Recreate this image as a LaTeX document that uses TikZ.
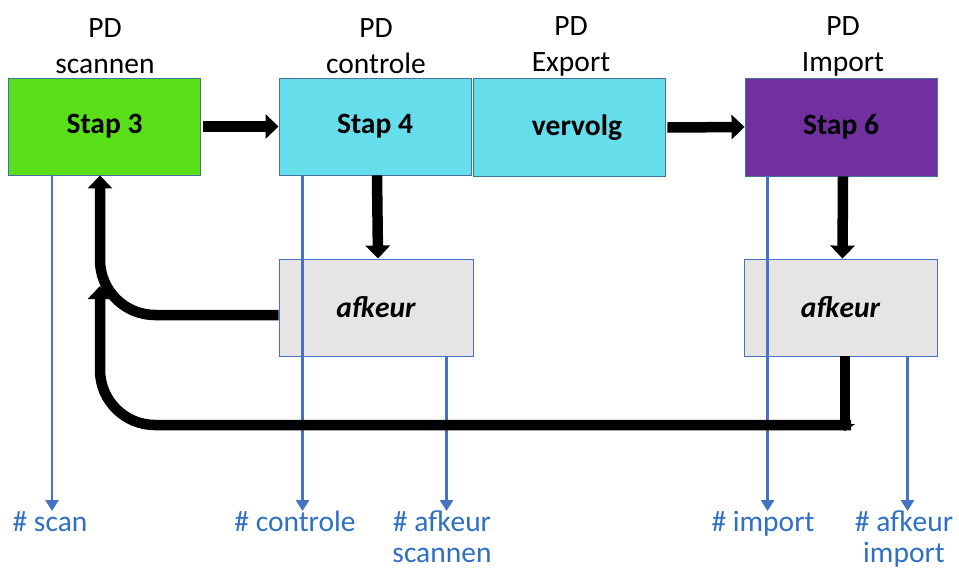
\documentclass[tikz,border=0pt]{standalone}
\usepackage{fontspec}
\setmainfont{Carlito}
\usetikzlibrary{arrows.meta,calc}
\definecolor{cgreen}{HTML}{5AE01A}
\definecolor{ccyan}{HTML}{66DDEA}
\definecolor{cpurple}{HTML}{7030A0}
\definecolor{cgray}{HTML}{E7E4E4}
\definecolor{cedge}{HTML}{41719C}
\definecolor{cblue}{HTML}{4472C4}
\definecolor{ctext}{HTML}{2F6FC4}
\begin{document}
\begin{tikzpicture}[x=1pt,y=-1pt,
  every node/.style={font=\fontsize{29.5}{36}\selectfont},
  box/.style={draw=cedge, line width=0.9pt, minimum width=192pt, minimum height=97pt, inner sep=0pt, font=\fontsize{29.5}{36}\selectfont\bfseries},
  toplbl/.style={align=center, inner sep=0pt, text=black},
  botlbl/.style={align=center, inner sep=0pt, text=ctext, anchor=north, font=\fontsize{29.5}{31}\selectfont},
  blk/.style={line width=10.5pt, draw=black},
  blkarrow/.style={blk, -{Triangle[width=24pt,length=13pt]}},
  bluearrow/.style={draw=cblue, line width=2.8pt, -{Triangle[width=13pt,length=11pt]}}
]
\useasboundingbox (0,0) rectangle (959,571);
% boxes
\node[box, fill=cgreen] (s3) at (104.5,126.5) {Stap 3};
\node[box, fill=ccyan] (s4) at (375,126.5) {Stap 4};
\node[box, fill=ccyan, minimum height=98pt] (vv) at (569,127.5) {\hspace*{16pt}vervolg};
\node[box, fill=cpurple, minimum height=98pt] (s6) at (841,127) {Stap 6};
\node[box, fill=cgray, draw=cblue, font=\fontsize{29.5}{36}\selectfont\bfseries\itshape, minimum width=194pt] (a1) at (376,307.5) {afkeur};
\node[box, fill=cgray, draw=cblue, font=\fontsize{29.5}{36}\selectfont\bfseries\itshape, minimum width=193pt] (a2) at (840.5,307.5) {afkeur};
% top labels
\node[toplbl] (l3) at (105,46) {PD\\scannen};
\node[toplbl] (l4) at (376,46) {PD\\controle};
\node[toplbl] (lv) at (571,46) {PD\\Export};
\node[toplbl] (l6) at (843,46) {PD\\Import};
% bottom labels
\node[botlbl] (b1) at (50,511) {\# scan};
\node[botlbl] (b2) at (295,511) {\# controle};
\node[botlbl] (b3) at (442,511) {\# afkeur\\scannen};
\node[botlbl] (b4) at (763,511) {\# import};
\node[botlbl] (b5) at (904,511) {\# afkeur\\import};
% blue count lines
\draw[bluearrow] ([xshift=44pt]s3.south west) -- ([xshift=44pt]s3.south west |- b1.north);
\draw[bluearrow] ([xshift=24pt]s4.south west) -- ([xshift=24pt]s4.south west |- b2.north);
\draw[bluearrow] ([xshift=168pt]a1.south west) -- ([xshift=168pt]a1.south west |- b3.north);
\draw[bluearrow] ([xshift=23pt]s6.south west) -- ([xshift=23pt]s6.south west |- b4.north);
\draw[bluearrow] ([xshift=164pt]a2.south west) -- ([xshift=164pt]a2.south west |- b5.north);
% main flow
\draw[blkarrow] ([xshift=2pt]s3.east) -- (s4.west);
\draw[blkarrow] ([xshift=2pt]vv.east) -- (s6.west);
\draw[blkarrow] ([xshift=2pt]s4.south) -- ([xshift=2pt]a1.north);
\draw[blkarrow] ([xshift=2pt]s6.south) -- ([xshift=2pt]a2.north);
% return flows
\draw[blkarrow, rounded corners=55pt] ([yshift=-7.5pt]a1.west) -| ([xshift=-4.5pt]s3.south);
\coordinate (turn2) at (845,431);
\coordinate (merge) at (100,286);
\draw[blk, -{Triangle[width=20pt,length=7pt]}] ([xshift=4.5pt]a2.south) -- (turn2);
\draw[blkarrow, rounded corners=55pt] (851,425) -| (merge);
\end{tikzpicture}
\end{document}
